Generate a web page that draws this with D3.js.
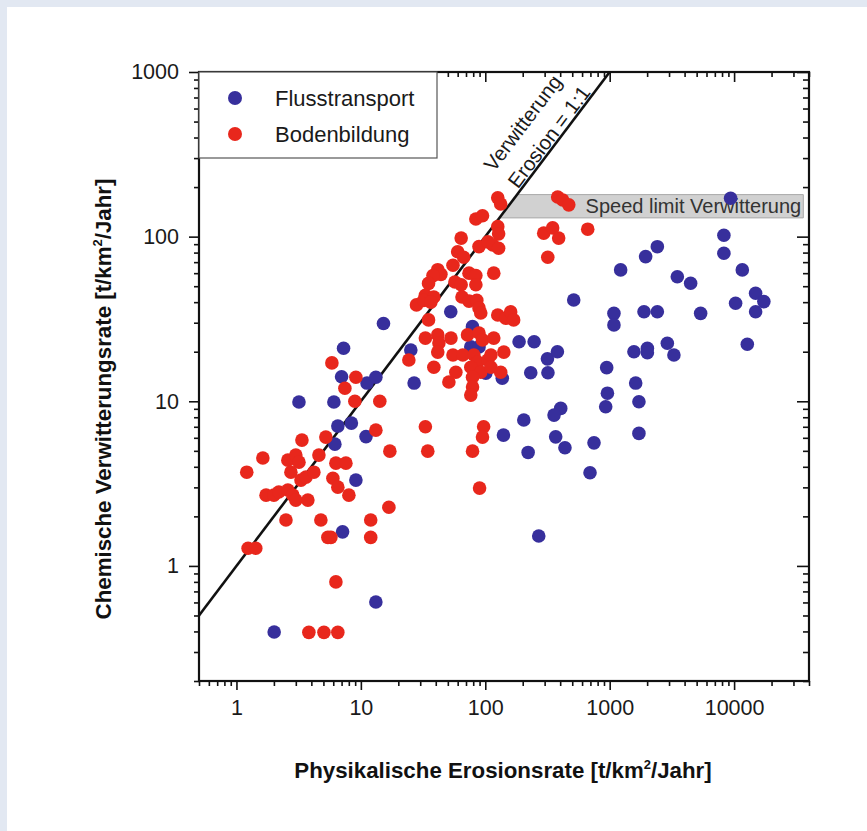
<!DOCTYPE html>
<html><head><meta charset="utf-8">
<script src="https://cdn.jsdelivr.net/npm/d3@7"></script>
<style>
html,body{margin:0;padding:0;background:#fff;}
svg{display:block;}
text{font-family:"Liberation Sans",Arial,Helvetica,sans-serif;}
</style></head><body>
<svg id="chart" width="867" height="831"></svg>
<script>
// ---------- data ----------
const seriesNames = ["Flusstransport", "Bodenbildung"];
const xTickValues = [1, 10, 100, 1000, 10000];
const yTickValues = [1, 10, 100, 1000];
const xTitle = "Physikalische Erosionsrate [t/km";
const yTitle = "Chemische Verwitterungsrate [t/km";
const titleTail = "/Jahr]";
const lineLabels = ["Verwitterung", "Erosion = 1:1"];
const speedLabel = "Speed limit Verwitterung";
const speedLimitRange = [130, 180];

const flussX = [3.18, 6.07, 6.53, 8.39, 6.18, 11.0, 9.12, 7.13, 13.2, 2.01,
  7.26, 7.0, 11.2, 13.2, 15.2, 25.2, 26.8, 52.8, 78.9, 76.5,
  89.1, 101, 137, 187, 247, 232, 319, 316, 380, 204,
  140, 221, 368, 437, 404, 357, 748, 695, 269, 514,
  1082, 1082, 1887, 2416, 1945, 2416, 1225, 3497, 4474, 5383,
  8279, 8279, 9375, 11640, 10280, 14890, 17350, 14890, 12770, 946,
  1618, 959, 929, 1718, 1718, 1567, 2009, 2009, 2906, 3283];
const flussY = [9.9, 9.9, 7.07, 7.37, 5.49, 6.10, 3.32, 1.61, 0.604, 0.397,
  21.0, 14.1, 12.9, 14.0, 29.7, 20.5, 12.9, 35.0, 28.4, 21.4,
  21.4, 14.8, 13.8, 23.0, 23.0, 14.9, 14.9, 18.1, 20.0, 7.69,
  6.23, 4.89, 6.08, 5.22, 9.05, 8.24, 5.59, 3.68, 1.52, 41.2,
  34.2, 29.1, 35.0, 35.0, 75.6, 86.9, 62.8, 57.1, 52.1, 34.2,
  102, 79.3, 171, 62.8, 39.4, 45.3, 40.3, 35.0, 22.2, 16.0,
  12.9, 11.2, 9.26, 9.93, 6.38, 20.0, 21.0, 19.7, 22.5, 19.1];

const bodenX = [126, 133, 84, 95, 126, 128, 64, 89, 105, 115,
  128, 60, 67, 55, 41.5, 44, 38, 74, 84, 117,
  35, 57, 64, 84, 33, 38.6, 65, 74, 85.5, 28,
  32, 36.5, 89, 92, 126, 146, 160, 169, 35, 33,
  41.5, 42.4, 53, 72, 89, 95, 117, 41.5, 55, 66,
  81, 87, 105, 111, 141, 24.3, 38.6, 58, 76.5, 92,
  111, 133, 51, 79, 79, 76.5, 382, 419, 469, 295,
  348, 389, 666, 318, 97, 95, 79, 90, 33, 34.5,
  5.85, 9.12, 7.44, 8.95, 14.2, 13.2, 3.36, 5.23, 4.60, 17.1,
  16.8, 1.63, 1.21, 2.59, 3.0, 3.18, 2.74, 3.30, 3.62, 4.19,
  6.30, 7.58, 5.96, 6.53, 8.01, 1.73, 2.0, 2.19, 2.59, 2.84,
  3.0, 3.75, 2.50, 4.77, 12.0, 5.43, 5.74, 12.0, 1.24, 1.43,
  6.3, 3.82, 5.05, 6.53];
const bodenY = [172, 158, 128, 134, 115, 104, 98, 87, 93, 89,
  85, 81, 75, 67, 63, 59, 58, 60, 58, 60,
  52, 53, 51, 51, 44, 43, 43, 40.6, 41, 38.5,
  41, 40, 36.9, 34.4, 33.4, 32, 34.9, 31.2, 31.2, 24.2,
  25.3, 22.6, 24.2, 25.3, 26, 23.6, 24.2, 19.9, 19.1, 19.1,
  19.1, 17.3, 17.8, 19.1, 19.9, 17.8, 16.1, 15.0, 16.1, 15.0,
  16.1, 15.0, 13.1, 14.0, 12.2, 10.9, 174, 167, 156, 105,
  113, 98, 111, 75, 7.0, 6.06, 4.98, 2.97, 7.0, 4.98,
  17.1, 14.0, 12.0, 10.0, 10.0, 6.68, 5.81, 6.06, 4.71, 4.98,
  2.27, 4.52, 3.71, 4.39, 4.71, 4.27, 3.71, 3.32, 3.46, 3.71,
  4.21, 4.21, 3.41, 3.01, 2.69, 2.69, 2.69, 2.81, 2.89, 2.69,
  2.51, 2.51, 1.90, 1.90, 1.90, 1.49, 1.49, 1.49, 1.28, 1.28,
  0.80, 0.395, 0.395, 0.395];

// ---------- layout ----------
const W = 867, H = 831;
const L = 199, R = 809, T = 72, B = 681;
const colors = { fluss: "#372f9c", boden: "#e8271c" };
const svg = d3.select("#chart");

// background frame
svg.append("rect").attr("x", 0).attr("y", 0).attr("width", W).attr("height", H).attr("fill", "#ffffff");
svg.append("rect").attr("x", 0).attr("y", 0).attr("width", W).attr("height", 7).attr("fill", "#e2e8f2");
svg.append("rect").attr("x", 0).attr("y", 0).attr("width", 7).attr("height", H).attr("fill", "#e2e8f2");

const x = d3.scaleLog().domain([0.5, 40000]).range([L, R]);
const y = d3.scaleLog().domain([0.2, 1000]).range([B, T]);

function minors(domain) {
  const out = [];
  for (let e = -2; e <= 6; e++) {
    for (let k = 2; k <= 9; k++) {
      const v = k * Math.pow(10, e);
      if (v >= domain[0] && v <= domain[1]) out.push(v);
    }
  }
  return out;
}
const xMinor = minors(x.domain());
const yMinor = minors(y.domain());
const fmt = d => String(d);

function styleAxis(g) {
  g.selectAll(".domain").remove();
  g.selectAll("line").attr("stroke", "#111").attr("stroke-width", 1.6);
  g.selectAll("text").attr("font-size", 21.5).attr("fill", "#1a1a1a");
}

// bottom axis
svg.append("g").attr("transform", `translate(0,${B})`)
  .call(d3.axisBottom(x).tickValues(xTickValues).tickFormat(fmt).tickSize(9).tickPadding(10)).call(styleAxis);
svg.append("g").attr("transform", `translate(0,${B})`)
  .call(d3.axisBottom(x).tickValues(xMinor).tickFormat("").tickSize(5)).call(styleAxis);
// top axis (inward)
svg.append("g").attr("transform", `translate(0,${T})`)
  .call(d3.axisTop(x).tickValues(xTickValues).tickFormat("").tickSize(-10)).call(styleAxis);
svg.append("g").attr("transform", `translate(0,${T})`)
  .call(d3.axisTop(x).tickValues(xMinor).tickFormat("").tickSize(-5)).call(styleAxis);
// left axis
svg.append("g").attr("transform", `translate(${L},0)`)
  .call(d3.axisLeft(y).tickValues(yTickValues).tickFormat(fmt).tickSize(10).tickPadding(10)).call(styleAxis);
svg.append("g").attr("transform", `translate(${L},0)`)
  .call(d3.axisLeft(y).tickValues(yMinor).tickFormat("").tickSize(5)).call(styleAxis);
// right axis (inward)
svg.append("g").attr("transform", `translate(${R},0)`)
  .call(d3.axisRight(y).tickValues(yTickValues).tickFormat("").tickSize(-12)).call(styleAxis);
svg.append("g").attr("transform", `translate(${R},0)`)
  .call(d3.axisRight(y).tickValues(yMinor).tickFormat("").tickSize(-6)).call(styleAxis);

// frame box
svg.append("rect").attr("x", L).attr("y", T).attr("width", R - L).attr("height", B - T)
  .attr("fill", "none").attr("stroke", "#111").attr("stroke-width", 2.2);

// speed limit band (bounded on the left by the 1:1 line)
const band = [[speedLimitRange[1], speedLimitRange[1]], [36000, speedLimitRange[1]],
              [36000, speedLimitRange[0]], [speedLimitRange[0], speedLimitRange[0]]];
svg.append("path")
  .attr("d", d3.line().x(d => x(d[0])).y(d => y(d[1]))(band) + "Z")
  .attr("fill", "#c9c9c9").attr("fill-opacity", 0.85).attr("stroke", "#a8a8a8").attr("stroke-width", 1);
svg.append("text").attr("x", x(640)).attr("y", y(Math.sqrt(speedLimitRange[0] * speedLimitRange[1])))
  .attr("dy", "0.36em").attr("font-size", 20).attr("fill", "#333").text(speedLabel);

// 1:1 line
const oneToOne = [0.5, 1000];
svg.append("line").attr("x1", x(oneToOne[0])).attr("y1", y(oneToOne[0]))
  .attr("x2", x(oneToOne[1])).attr("y2", y(oneToOne[1]))
  .attr("stroke", "#111").attr("stroke-width", 2.6);

const ang = Math.atan2(y(1000) - y(1), x(1000) - x(1)) * 180 / Math.PI;
const labelPos = [[200, 490], [325, 405]];
lineLabels.forEach((t, i) => {
  svg.append("text")
    .attr("transform", `translate(${x(labelPos[i][0])},${y(labelPos[i][1])}) rotate(${ang})`)
    .attr("text-anchor", "middle").attr("dy", "0.35em").attr("font-size", 20.5).attr("fill", "#1a1a1a")
    .text(t);
});

// points
const r = 6.8;
svg.append("g").selectAll("circle").data(d3.range(flussX.length)).join("circle")
  .attr("cx", i => x(flussX[i])).attr("cy", i => y(flussY[i])).attr("r", r).attr("fill", colors.fluss);
svg.append("g").selectAll("circle").data(d3.range(bodenX.length)).join("circle")
  .attr("cx", i => x(bodenX[i])).attr("cy", i => y(bodenY[i])).attr("r", r).attr("fill", colors.boden);

// legend
const lg = svg.append("g");
lg.append("rect").attr("x", L).attr("y", T).attr("width", 238).attr("height", 86)
  .attr("fill", "#fff").attr("stroke", "#555").attr("stroke-width", 1.2);
[colors.fluss, colors.boden].forEach((c, i) => {
  lg.append("circle").attr("cx", L + 36).attr("cy", T + 26 + i * 36).attr("r", 7).attr("fill", c);
  lg.append("text").attr("x", L + 76).attr("y", T + 26 + i * 36).attr("dy", "0.36em")
    .attr("font-size", 22).attr("fill", "#1a1a1a").text(seriesNames[i]);
});

// axis titles
function titleText(sel, base) {
  sel.append("tspan").text(base);
  sel.append("tspan").attr("dy", -9).attr("font-size", 13).text("2");
  sel.append("tspan").attr("dy", 9).text(titleTail);
}
svg.append("text").attr("x", 503).attr("y", 778).attr("text-anchor", "middle")
  .attr("font-size", 22.3).attr("font-weight", "bold").attr("fill", "#111").call(titleText, xTitle);
svg.append("text").attr("transform", "translate(111,399) rotate(-90)").attr("text-anchor", "middle")
  .attr("font-size", 22.3).attr("font-weight", "bold").attr("fill", "#111").call(titleText, yTitle);
</script>
</body></html>
